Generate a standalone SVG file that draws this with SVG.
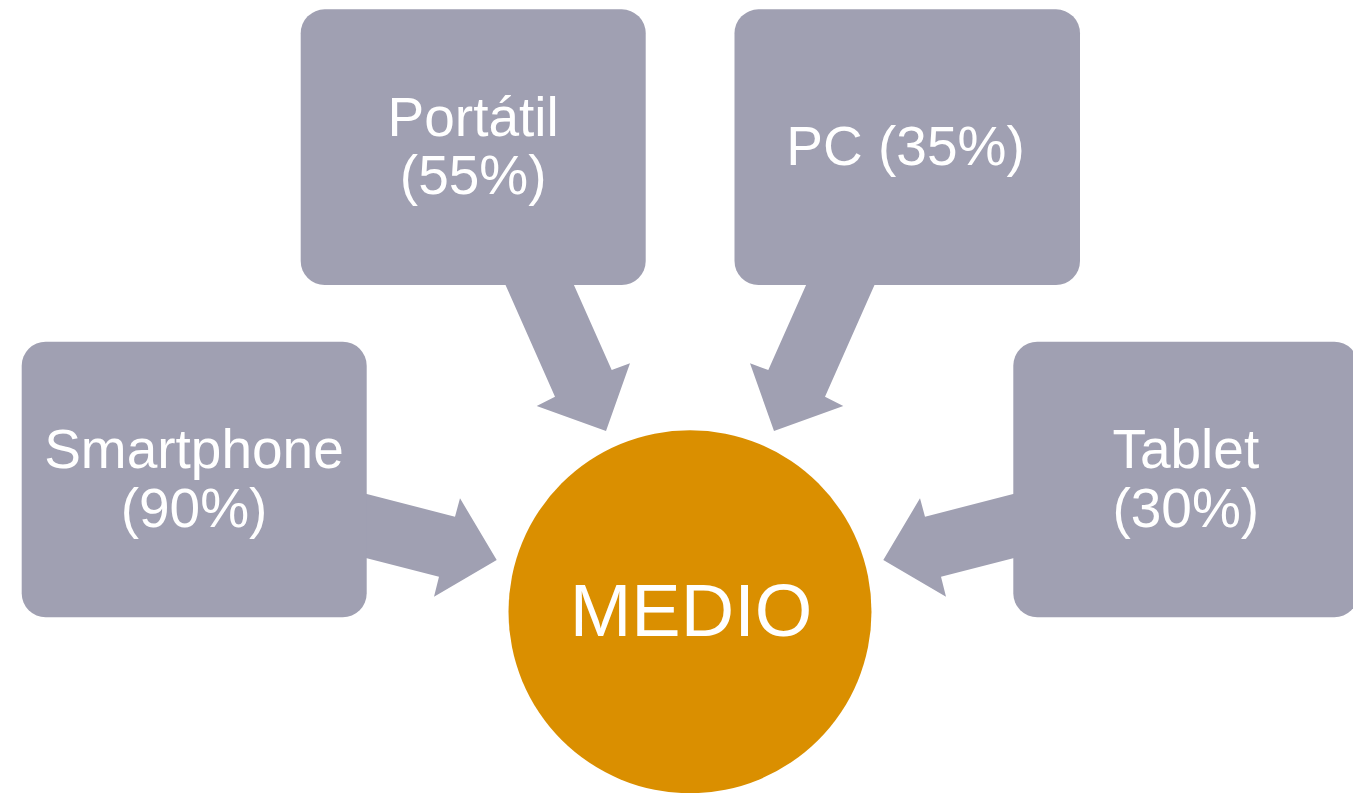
<svg xmlns="http://www.w3.org/2000/svg" width="1353" height="793" viewBox="0 0 1353 793">
<style>
.box{fill:#A0A0B2}
.arrow{fill:#A0A0B2}
.lbl{fill:#FFFFFF;font-family:"Liberation Sans",Arial,sans-serif;font-size:55px;text-anchor:middle}
.hub{fill:#DA8F00}
.hubl{fill:#FFFFFF;font-family:"Liberation Sans",Arial,sans-serif;font-size:74px;text-anchor:middle}
</style>
<rect width="1353" height="793" fill="#FFFFFF"/>
<g id="connectors">
<polygon class="arrow" points="503.3,280 555,396.7 536.7,406 606,431 630,363.3 611.7,370 571.7,280"/>
<polygon class="arrow" points="876.7,280 825,396.7 843.3,406 774,431 750,363.3 768.3,370 808.3,280"/>
<polygon class="arrow" points="360,492.3 455,516.7 460,498.3 496.7,560 434,596.7 439,576.7 360,556.5"/>
<polygon class="arrow" points="1020,492.3 925,516.7 920,498.3 883.3,560 946,596.7 941,576.7 1020,556.5"/>
</g>
<g id="node-portatil">
<rect class="box" x="300.7" y="9.3" width="345" height="275.7" rx="24"/>
<text class="lbl" x="473.2" y="136">Portátil</text>
<text class="lbl" x="473.2" y="193.5">(55%)</text>
</g>
<g id="node-pc">
<rect class="box" x="734.5" y="9.3" width="345.5" height="275.7" rx="24"/>
<text class="lbl" x="905.5" y="165">PC (35%)</text>
</g>
<g id="node-smartphone">
<rect class="box" x="21.7" y="341.7" width="345" height="275.6" rx="24"/>
<text class="lbl" x="194" y="468">Smartphone</text>
<text class="lbl" x="194" y="527">(90%)</text>
</g>
<g id="node-tablet">
<rect class="box" x="1013.3" y="341.7" width="345" height="275.6" rx="24"/>
<text class="lbl" x="1185.8" y="467.5">Tablet</text>
<text class="lbl" x="1185.8" y="527">(30%)</text>
</g>
<g id="node-medio">
<circle class="hub" cx="690" cy="611.7" r="181.5"/>
<text class="hubl" x="691" y="635.7">MEDIO</text>
</g>
</svg>
